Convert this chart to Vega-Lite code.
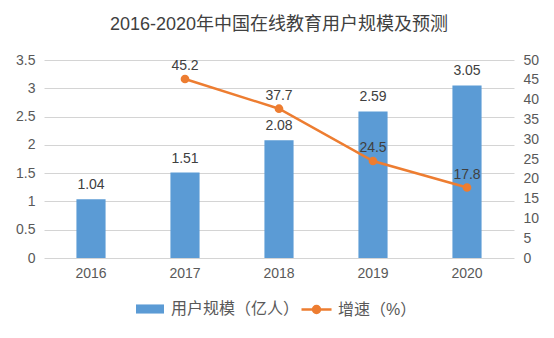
{
  "$schema": "https://vega.github.io/schema/vega-lite/v6.json",
  "width": 470,
  "height": 198,
  "autosize": "none",
  "padding": {"left": 44, "top": 60, "right": 40, "bottom": 80},
  "background": "white",
  "title": {
    "text": "2016-2020年中国在线教育用户规模及预测",
    "font": "Liberation Sans, Noto Sans CJK SC",
    "fontSize": 18,
    "fontWeight": "normal",
    "color": "#404040",
    "offset": 19
  },
  "config": {
    "view": {"stroke": null},
    "axis": {
      "labelFont": "Liberation Sans",
      "labelFontSize": 14,
      "labelColor": "#595959",
      "domain": false,
      "ticks": false,
      "title": null,
      "labelOverlap": false
    },
    "legend": {
      "labelFont": "Liberation Sans, Noto Sans CJK SC",
      "labelFontSize": 16,
      "labelColor": "#595959"
    }
  },
  "data": {
    "values": [
      {"year": "2016", "users": 1.04, "growth": null},
      {"year": "2017", "users": 1.51, "growth": 45.2},
      {"year": "2018", "users": 2.08, "growth": 37.7},
      {"year": "2019", "users": 2.59, "growth": 24.5},
      {"year": "2020", "users": 3.05, "growth": 17.8}
    ]
  },
  "encoding": {
    "x": {
      "field": "year",
      "type": "ordinal",
      "scale": {"paddingInner": 0.69, "paddingOuter": 0.345},
      "axis": {"labelAngle": 0, "labelPadding": 8, "grid": false}
    }
  },
  "layer": [
    {
      "encoding": {
        "y": {
          "field": "users",
          "type": "quantitative",
          "scale": {"domain": [0, 3.5], "nice": false, "zero": true},
          "axis": {
            "orient": "left",
            "values": [0, 0.5, 1, 1.5, 2, 2.5, 3, 3.5],
            "format": "~g",
            "grid": true,
            "gridColor": "#D4D4D4",
            "gridWidth": 1,
            "labelPadding": 9
          }
        }
      },
      "layer": [
        {
          "mark": {"type": "bar", "color": "#5B9BD5"},
          "encoding": {
            "fill": {
              "datum": "用户规模（亿人）",
              "type": "nominal",
              "scale": {"range": ["#5B9BD5"]},
              "legend": {
                "orient": "none",
                "legendX": 91,
                "legendY": 241,
                "title": null,
                "symbolType": "M-1,-0.65H3V0.65H-1Z",
                "symbolSize": 196,
                "symbolStrokeWidth": 0,
                "labelOffset": 20
              }
            }
          }
        },
        {
          "mark": {"type": "text", "baseline": "bottom", "dy": -7, "font": "Liberation Sans", "fontSize": 14, "color": "#404040"},
          "encoding": {
            "text": {"field": "users", "type": "quantitative", "format": ".2f"}
          }
        }
      ]
    },
    {
      "transform": [{"filter": "datum.growth != null"}],
      "encoding": {
        "y": {
          "field": "growth",
          "type": "quantitative",
          "scale": {"domain": [0, 50], "nice": false},
          "axis": {
            "orient": "right",
            "values": [0, 5, 10, 15, 20, 25, 30, 35, 40, 45, 50],
            "format": "d",
            "grid": false,
            "labelPadding": 9
          }
        }
      },
      "layer": [
        {
          "mark": {"type": "line", "color": "#ED7D31", "strokeWidth": 2.5, "point": {"filled": true, "size": 45, "color": "#ED7D31"}},
          "encoding": {
            "stroke": {
              "datum": "增速（%）",
              "type": "nominal",
              "scale": {"range": ["#ED7D31"]},
              "legend": {
                "orient": "none",
                "legendX": 256,
                "legendY": 241,
                "title": null,
                "symbolType": "M-1,0H3.29M1.643,0A0.5,0.5,0,1,1,0.643,0A0.5,0.5,0,1,1,1.643,0",
                "symbolSize": 196,
                "symbolStrokeWidth": 2.5,
                "labelOffset": 21,
                "encode": {"symbols": {"update": {"fill": {"value": "#ED7D31"}}}}
              }
            }
          }
        },
        {
          "mark": {"type": "text", "baseline": "bottom", "dy": -6, "font": "Liberation Sans", "fontSize": 14, "color": "#404040"},
          "encoding": {
            "text": {"field": "growth", "type": "quantitative", "format": ".1f"}
          }
        }
      ]
    }
  ],
  "resolve": {"scale": {"y": "independent"}}
}
